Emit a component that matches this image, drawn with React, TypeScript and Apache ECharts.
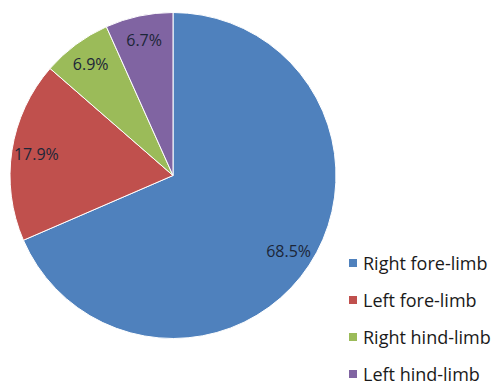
import React, { useEffect, useRef } from "react";
import * as echarts from "echarts";

const categories = ["Right fore-limb", "Left fore-limb", "Right hind-limb", "Left hind-limb"];
const shares = [68.5, 17.9, 6.9, 6.7];
const colors = ["#4F81BD", "#C0504D", "#9BBB59", "#8064A2"];

const CX = 173;
const CY = 175.5;
const R = 163;

export default function App() {
  const ref = useRef<HTMLDivElement>(null);

  useEffect(() => {
    if (!ref.current) return;
    const chart = echarts.init(ref.current, undefined, { renderer: "svg" });

    const data = categories.map((name, i) => ({
      name,
      value: shares[i],
      itemStyle: { color: colors[i] },
    }));

    chart.setOption({
      animation: false,
      backgroundColor: "#ffffff",
      legend: {
        orient: "vertical",
        left: 347,
        top: 253,
        padding: 0,
        itemWidth: 10,
        itemHeight: 10,
        itemGap: 17,
        icon: "rect",
        selectedMode: false,
        data: categories,
        textStyle: {
          fontFamily: "Open Sans",
          fontSize: 18,
          lineHeight: 20,
          color: "#1a1a1a",
        },
      },
      series: [
        {
          type: "pie",
          center: [CX, CY],
          radius: [0, R],
          startAngle: 90,
          clockwise: true,
          label: { show: false },
          labelLine: { show: false },
          itemStyle: { borderColor: "#ffffff", borderWidth: 1 },
          emphasis: { disabled: true },
          data,
        },
        {
          // transparent ring that carries the percentage labels near the rim
          type: "pie",
          center: [CX, CY],
          radius: [R * 0.66, R],
          startAngle: 90,
          clockwise: true,
          silent: true,
          legendHoverLink: false,
          itemStyle: { color: "rgba(0,0,0,0)" },
          emphasis: { disabled: true },
          label: {
            show: true,
            position: "inside",
            formatter: (p: any) => `${shares[p.dataIndex].toFixed(1)}%`,
            fontFamily: "Open Sans",
            fontSize: 16,
            color: "#1c2638",
          },
          labelLine: { show: false },
          data: categories.map((name, i) => ({ name, value: shares[i] })),
        },
      ],
    });

    return () => chart.dispose();
  }, []);

  return (
    <div
      ref={ref}
      style={{ position: "fixed", left: 0, top: 0, width: 493, height: 386 }}
    />
  );
}
